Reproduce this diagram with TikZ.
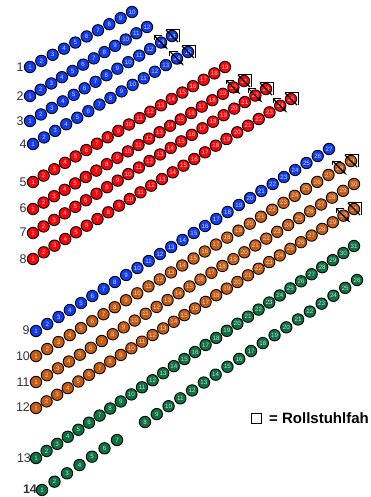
\documentclass[tikz,border=0pt]{standalone}
\usepackage{fontspec}
\setmainfont{Liberation Sans}
\usetikzlibrary{arrows}
\usetikzlibrary{positioning}
\definecolor{seatblue}{RGB}{15,60,240}
\definecolor{seatred}{RGB}{250,5,10}
\definecolor{seatorange}{RGB}{200,90,15}
\definecolor{seatgreen}{RGB}{10,115,65}
\tikzset{seatnode/.style = {circle, draw=black, line width=0.9pt, inner sep=0pt,
                            minimum size=11.4pt, text=white!85!black,
                            font=\fontsize{6.2}{6.2}\selectfont},
         rowlabel/.style = {inner sep=0pt, text=black!80, font=\fontsize{12.5}{12.5}\selectfont},
         wheelline/.style = {line width=0.9pt, black},
         wheelarrow/.style = {line width=1.2pt, black, ->, >=latex'}}

\begin{document}
\begin{tikzpicture}[x=1pt, y=-1pt]
    \useasboundingbox (0, 0) rectangle (370, 497);
    % row / colour / first seat / last seat / position of first / position of last
    \foreach \row/\col/\first/\last/\xa/\ya/\xb/\yb in {
        1/seatblue/1/10/30/67/132/12,
        2/seatblue/1/12/30/96/147/27,
        3/seatblue/1/14/30/121/172/36,
        4/seatblue/1/15/33/144/188/52,
        5/seatred/1/19/33/182/225/67,
        6/seatred/1/21/33/209/244/81,
        7/seatred/1/23/33/233/266/89,
        8/seatred/1/25/33/259/291/99,
        9/seatblue/1/27/36/331/329/149,
        10/seatorange/1/29/36/356/351/161,
        11/seatorange/1/30/36/382/354/184,
        12/seatorange/1/31/36/408/354/209,
        13/seatgreen/1/31/36/458/354/246,
        14/seatgreen/1/7/42/490/117/440,
        14/seatgreen/8/26/145/422/357/280} {
      \foreach \n in {\first, ..., \last} {
        \pgfmathsetmacro{\t}{(\n-\first)/(\last-\first)}
        \node [seatnode, fill=\col] (r\row-\n)
          at ({\xa+\t*(\xb-\xa)}, {\ya+\t*(\yb-\ya)}) {\n};
      }
    }
    % seats for wheelchairs, the lower one of each pair
    \foreach \seat in {r3-13, r4-14, r6-20, r7-22, r8-24, r10-28, r12-30} {
      \draw [wheelline] ([shift={(1, -7)}]\seat.center) -- ([shift={(-7, -7)}]\seat.center)
                        -- ([shift={(-7, -3)}]\seat.center);
      \draw [wheelarrow] ([shift={(-7, -7)}]\seat.center) -- ([shift={(7, 7)}]\seat.center);
    }
    % and the upper one
    \foreach \seat in {r3-14, r4-15, r6-21, r7-23, r8-25, r10-29, r12-31} {
      \draw [wheelline] ([shift={(-6, -7)}]\seat.center) -- ([shift={(7, -7)}]\seat.center)
                        -- ([shift={(7, 6)}]\seat.center);
      \draw [wheelline, line width=1.2pt] ([shift={(-6, -6)}]\seat.center) -- ([shift={(6, 6)}]\seat.center);
    }
    \foreach \row/\xa/\ya in {1/20/67, 2/20/96, 3/20/121, 4/23/144, 5/23/182, 6/23/208, 7/23/232,
                              8/23/259, 9/26/330, 10/23/356, 11/23/382, 12/23/407, 13/24/458}
      \node [rowlabel] (label\row) at (\xa, \ya) {\row};
    \node [rowlabel, font=\fontsize{12.5}{12.5}\selectfont\bfseries] (label14) at (30, 489) {14};
    \node [draw=black, line width=1pt, minimum size=10pt, inner sep=0pt] (legendbox) at (256.5, 418.5) {};
    \node [right=7pt of legendbox, inner sep=0pt,
           font=\fontsize{15}{15}\selectfont\bfseries] (legendtext) {= Rollstuhlfah};
\end{tikzpicture}
\end{document}
